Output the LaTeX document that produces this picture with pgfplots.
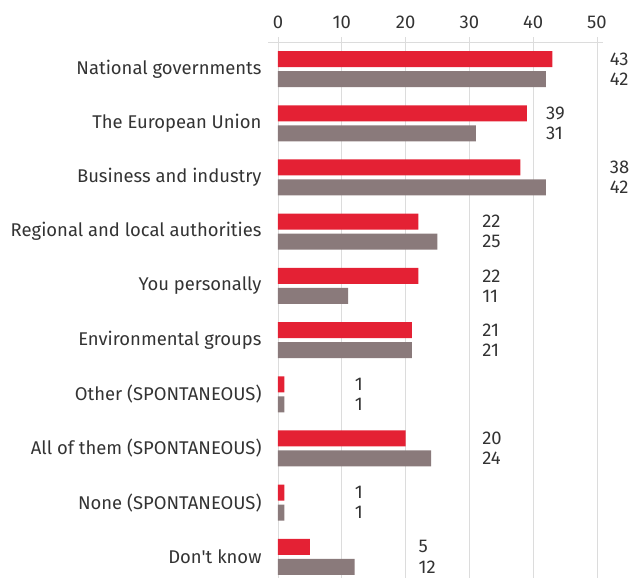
\documentclass[border=0pt]{standalone}
\usepackage{pgfplots}
\pgfplotsset{compat=1.18}
\usepackage{fontspec}
\setmainfont{Fira Sans}
\definecolor{ecred}{HTML}{E42134}
\definecolor{ecgrey}{HTML}{8A7A7B}
\definecolor{gridgrey}{HTML}{DCDCDC}
\definecolor{txt}{HTML}{333333}
\begin{document}
\begin{tikzpicture}
\useasboundingbox (-278bp,0) rectangle (351bp,578bp);
\begin{axis}[
    at={(0,0)}, anchor=south west,
    scale only axis,
    width=319bp, height=536bp,
    xmin=0, xmax=50,
    ymin=-0.5, ymax=9.39,
    y dir=reverse,
    clip=false,
    axis line style={draw=none},
    xtick={0,10,20,30,40,50},
    xticklabel pos=upper,
    xtick pos=upper,
    tick align=outside,
    major tick length=5bp,
    x tick style={gridgrey, line width=0.8bp},
    xmajorgrids,
    grid style={gridgrey, line width=0.8bp},
    ytick={0,...,9},
    y tick style={draw=none},
    yticklabels={National governments, The European Union, Business and industry,
        Regional and local authorities, You personally, Environmental groups,
        Other (SPONTANEOUS), All of them (SPONTANEOUS), None (SPONTANEOUS), Don\textquotesingle t know},
    yticklabel style={anchor=east, xshift=-8bp},
    ticklabel style={font=\fontsize{18.5}{22}\selectfont, text=txt},
    xticklabel style={yshift=5bp},
    /pgf/number format/assume math mode=true,
]
% top axis line
\draw[gridgrey, line width=0.8bp] (axis cs:-1.5,-0.5) -- (axis cs:51,-0.5);

% first series (red), drawn above its pair (y dir is reversed)
\addplot[xbar, bar width=16bp, bar shift=10bp, fill=ecred, draw=none]
    coordinates {(43,0) (39,1) (38,2) (22,3) (22,4) (21,5) (1,6) (20,7) (1,8) (5,9)};
% second series (grey)
\addplot[xbar, bar width=16bp, bar shift=-10bp, fill=ecgrey, draw=none]
    coordinates {(42,0) (31,1) (42,2) (25,3) (11,4) (21,5) (1,6) (24,7) (1,8) (12,9)};

% value labels
\addplot[draw=none, mark=none, nodes near coords, point meta=explicit symbolic,
    every node near coord/.append style={anchor=west, inner sep=0pt, yshift=10bp,
        font=\fontsize{18.5}{22}\selectfont, text=txt}]
    coordinates {(52,0)[43] (42,1)[39] (52,2)[38] (32,3)[22] (32,4)[22]
                 (32,5)[21] (12,6)[1] (32,7)[20] (12,8)[1] (22,9)[5]};
\addplot[draw=none, mark=none, nodes near coords, point meta=explicit symbolic,
    every node near coord/.append style={anchor=west, inner sep=0pt, yshift=-10bp,
        font=\fontsize{18.5}{22}\selectfont, text=txt}]
    coordinates {(52,0)[42] (42,1)[31] (52,2)[42] (32,3)[25] (32,4)[11]
                 (32,5)[21] (12,6)[1] (32,7)[24] (12,8)[1] (22,9)[12]};
\end{axis}
\end{tikzpicture}
\end{document}
